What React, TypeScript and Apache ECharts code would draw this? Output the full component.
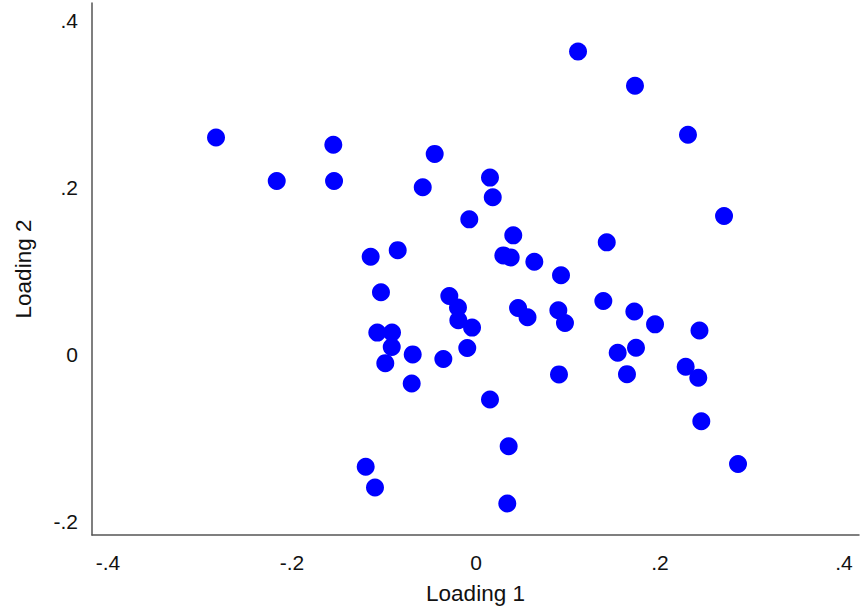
import React, { useEffect, useRef } from "react";
import * as echarts from "echarts";

const loading1: number[] = [
  -0.2826, -0.2166, -0.1551, -0.1543, -0.0449, -0.0579, 0.0152, 0.0182, -0.0073, 0.1109,
  0.1728, 0.2304, 0.2696, 0.0405, 0.1421, 0.0297, 0.0377, 0.0634, 0.0924, -0.1145,
  -0.0851, -0.1033, -0.029, -0.0196, -0.0192, -0.0043, 0.0457, 0.056, 0.0895, 0.0967,
  0.1384, 0.1721, 0.1946, -0.1073, -0.0913, -0.0916, -0.0688, -0.0986, -0.0355, -0.0095,
  -0.0699, 0.0902, 0.154, 0.1739, 0.1641, 0.2279, 0.2429, 0.2416, 0.2449, 0.0152,
  0.0355, -0.1199, -0.1098, 0.034, 0.2848,
];

const loading2: number[] = [
  0.2598, 0.2078, 0.2511, 0.2078, 0.2402, 0.2002, 0.2118, 0.1882, 0.1618, 0.3628,
  0.3219, 0.2631, 0.1658, 0.1426, 0.1342, 0.1186, 0.1162, 0.1109, 0.0949, 0.1169,
  0.1249, 0.0745, 0.07, 0.0561, 0.0408, 0.0321, 0.0556, 0.0444, 0.0529, 0.0376,
  0.064, 0.0513, 0.036, 0.0261, 0.0261, 0.0088, 0.0, -0.0105, -0.0056, 0.0076,
  -0.0348, -0.024, 0.002, 0.008, -0.0237, -0.0148, 0.0286, -0.028, -0.0801, -0.0541,
  -0.1101, -0.1346, -0.1594, -0.1786, -0.1313,
];

const xTicks: number[] = [-0.4, -0.2, 0, 0.2, 0.4];
const yTicks: number[] = [-0.2, 0, 0.2, 0.4];

const fmt = (v: number): string => {
  if (Math.abs(v) < 1e-9) return "0";
  const s = v.toFixed(1);
  return s.replace("0.", ".");
};

export default function App() {
  const ref = useRef<HTMLDivElement>(null);
  useEffect(() => {
    if (!ref.current) return;
    const chart = echarts.init(ref.current, undefined, { renderer: "svg" });
    const data = loading1.map((x, i) => [x, loading2[i]]);
    const font = "'Liberation Sans', Arial, sans-serif";
    chart.setOption({
      animation: false,
      backgroundColor: "#ffffff",
      grid: { left: 92, right: 1, top: 3, bottom: 78, containLabel: false },
      xAxis: {
        type: "value",
        min: -0.4174,
        max: 0.4163,
        name: "Loading 1",
        nameLocation: "middle",
        nameGap: 47,
        nameTextStyle: { fontFamily: font, fontSize: 22.5, color: "#111111" },
        axisLine: { show: true, onZero: false, lineStyle: { color: "#555555", width: 1.5 } },
        axisTick: { show: false },
        splitLine: { show: false },
        axisLabel: {
          customValues: xTicks,
          formatter: (v: number) => fmt(v),
          fontFamily: font,
          fontSize: 21,
          color: "#111111",
          margin: 17,
        },
      },
      yAxis: {
        type: "value",
        min: -0.2164,
        max: 0.421,
        name: "Loading 2",
        nameLocation: "middle",
        nameGap: 57,
        nameTextStyle: { fontFamily: font, fontSize: 22.5, color: "#111111" },
        axisLine: { show: true, onZero: false, lineStyle: { color: "#555555", width: 1.5 } },
        axisTick: { show: false },
        splitLine: { show: false },
        axisLabel: {
          customValues: yTicks,
          formatter: (v: number) => fmt(v),
          fontFamily: font,
          fontSize: 21,
          color: "#111111",
          margin: 14,
        },
      },
      series: [
        {
          type: "scatter",
          data,
          symbol: "circle",
          symbolSize: 18,
          itemStyle: { color: "#0000ff", opacity: 1 },
        },
      ],
    });
    return () => chart.dispose();
  }, []);
  return <div ref={ref} style={{ width: 860, height: 613, position: "absolute", left: 0, top: 0 }} />;
}
